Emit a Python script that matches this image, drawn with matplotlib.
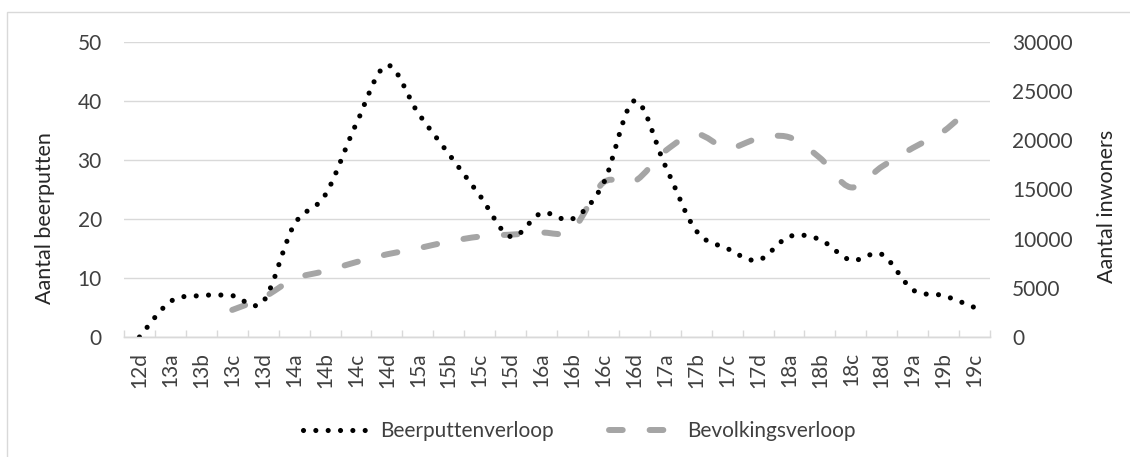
import numpy as np
import matplotlib
matplotlib.use("Agg")
import matplotlib.pyplot as plt
from matplotlib.path import Path
from matplotlib.patches import PathPatch, Rectangle
from matplotlib.lines import Line2D

plt.rcParams['font.family'] = ['Lato', 'DejaVu Sans']

# Period labels (century + quarter)
periods = ["12d", "13a", "13b", "13c", "13d", "14a", "14b", "14c", "14d",
           "15a", "15b", "15c", "15d", "16a", "16b", "16c", "16d",
           "17a", "17b", "17c", "17d", "18a", "18b", "18c", "18d",
           "19a", "19b", "19c"]

# Number of cesspits per period
beerputten = [0, 6, 7, 7, 6, 19, 24, 36, 46, 38, 31, 24, 17, 21, 20, 26, 40,
              29, 18, 15, 13, 17, 16.5, 13, 14, 8, 7, 5]

# Population estimate (starts at 13c)
bevolking = [None, None, None, 2750, 4000, 5900, 6700, 7600, 8400, 9000, 9700,
             10200, 10400, 10600, 10900, 15700, 15800, 18900, 20600, 19200,
             20150, 20300, 18200, 15200, 17300, 19200, 20900, 23700]

left_ticks = [0, 10, 20, 30, 40, 50]
right_ticks = [0, 5000, 10000, 15000, 20000, 25000, 30000]

GRID = "#d9d9d9"
TICK_TXT = "#404040"
TITLE_TXT = "#262626"
GRAY = "#a5a5a5"


def smooth_path(xs, ys):
    """Cubic Bezier path through the points (spreadsheet-style smoothed line)."""
    pts = np.column_stack([xs, ys]).astype(float)
    n = len(pts)
    verts = [pts[0]]
    codes = [Path.MOVETO]
    for i in range(n - 1):
        p0 = pts[i - 1] if i > 0 else pts[i]
        p1 = pts[i]
        p2 = pts[i + 1]
        p3 = pts[i + 2] if i + 2 < n else pts[i + 1]
        c1 = p1 + (p2 - p0) / 6.0
        c2 = p2 - (p3 - p1) / 6.0
        verts += [c1, c2, p2]
        codes += [Path.CURVE4] * 3
    return Path(verts, codes)


fig = plt.figure(figsize=(11.3, 4.57), dpi=100)
W, H = 1130, 457

# chart-area border
fig.patches.append(Rectangle((7 / W, -0.1), 1.2, (1 - 12 / H) + 0.1,
                             transform=fig.transFigure, fill=False,
                             edgecolor=GRID, linewidth=1.0))

ax = fig.add_axes([124 / W, 1 - 337 / H, 866 / W, (337 - 41.7) / H])
ax2 = ax.twinx()

n = len(periods)
x = np.arange(n)

# population (secondary axis scale), dashed gray
bx = [xi for xi, v in zip(x, bevolking) if v is not None]
by = [v for v in bevolking if v is not None]
pop_patch = PathPatch(smooth_path(bx, by), fill=False, edgecolor=GRAY,
                      linewidth=4.3, linestyle=(0, (2.3, 4.5)),
                      capstyle='round', joinstyle='round',
                      transform=ax2.transData, zorder=3)
ax.add_patch(pop_patch)

# cesspits, black dotted
pit_patch = PathPatch(smooth_path(x, beerputten), fill=False, edgecolor="black",
                      linewidth=3.7, linestyle=(0, (0.001, 2.4)),
                      capstyle='round', joinstyle='round', zorder=4)
ax.add_patch(pit_patch)

ax.set_xlim(-0.5, n - 0.5)
ax.set_ylim(0, 50)
ax2.set_ylim(0, 30000)

# grid and axes styling
ax.set_yticks(left_ticks)
ax.yaxis.grid(True, color=GRID, linewidth=1.0)
ax.set_axisbelow(True)
for a in (ax, ax2):
    for s in ("top", "left", "right"):
        a.spines[s].set_visible(False)
    a.spines["bottom"].set_color(GRID)
    a.spines["bottom"].set_linewidth(1.0)

ax.tick_params(axis="y", length=0, pad=16, labelsize=15, labelcolor=TICK_TXT)
ax2.set_yticks(right_ticks)
ax2.tick_params(axis="y", length=0, pad=16, labelsize=15, labelcolor=TICK_TXT)

ax.set_xticks(x)
ax.set_xticklabels(periods, rotation=90)
ax.tick_params(axis="x", which="major", length=0, pad=11, labelsize=15,
               labelcolor=TICK_TXT)
ax.set_xticks(np.arange(-0.5, n, 1.0), minor=True)
ax.tick_params(axis="x", which="minor", length=5, direction="in", color=GRID,
               width=1.0)

# axis titles
fig.text(45 / W, 1 - 218 / H, "Aantal beerputten", rotation=90, ha="center",
         va="center", fontsize=15.5, color=TITLE_TXT)
fig.text(1107 / W, 1 - 206 / H, "Aantal inwoners", rotation=90, ha="center",
         va="center", fontsize=15.5, color=TITLE_TXT)

# legend
handles = [
    Line2D([], [], color="black", linewidth=3.7, linestyle=(0, (0.001, 2.4)),
           dash_capstyle="round", solid_capstyle="round"),
    Line2D([], [], color=GRAY, linewidth=4.3, linestyle=(0, (2.3, 4.5)),
           dash_capstyle="round"),
]
leg = fig.legend(handles, ["Beerputtenverloop", "Bevolkingsverloop"],
                 loc="center", bbox_to_anchor=(579 / W, 1 - 431 / H), ncol=2,
                 frameon=False, fontsize=15, handlelength=3.2,
                 handletextpad=0.53, columnspacing=2.65)
for t in leg.get_texts():
    t.set_color(TICK_TXT)

fig.savefig("out.png", dpi=100)
